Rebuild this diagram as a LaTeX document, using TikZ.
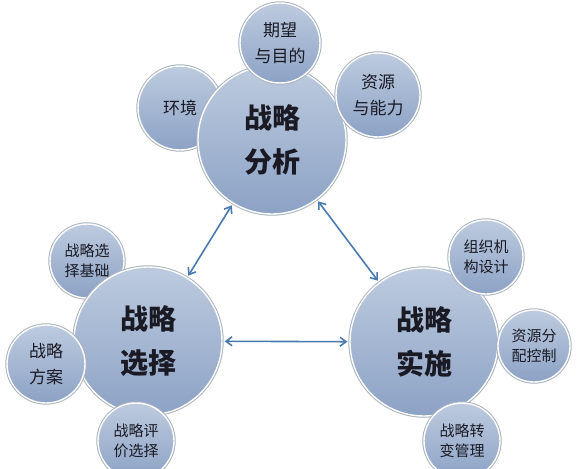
\documentclass[tikz,border=0pt]{standalone}
\usepackage{fontspec}
\setmainfont{Noto Sans CJK SC}
\usepackage{tikz}
\usetikzlibrary{arrows.meta,positioning}
\definecolor{bubtop}{HTML}{BDCBDF}
\definecolor{bubbot}{HTML}{8CA2C5}
\definecolor{bubrim}{HTML}{A9B3C2}
\definecolor{arrblue}{HTML}{4A78B0}
\definecolor{txtdark}{HTML}{1A1A24}

\begin{document}
\begin{tikzpicture}[
  x=1pt, y=-1pt,
  bub/.style ={circle,inner sep=0pt,align=center,text=txtdark,
               top color=bubtop,bottom color=bubbot,
               draw=white,line width=1.4pt,
               preaction={draw=bubrim,line width=3.4pt}},
  big/.style ={bub,minimum size=148pt,
               font=\fontsize{28}{44}\selectfont\bfseries},
  sml/.style ={bub,minimum size=78pt,
               font=\fontsize{17}{26}\selectfont},
  tri/.style ={bub,minimum size=74pt,
               font=\fontsize{15}{20}\selectfont},
  arr/.style ={{Straight Barb[length=6pt,width=9pt]}-{Straight Barb[length=6pt,width=9pt]},
               draw=arrblue,line width=1.6pt,shorten <=2pt,shorten >=2pt}
]
\useasboundingbox (0,0) rectangle (580,468);

%% small circles lying under the big ones
\node[sml,minimum size=84pt] (env)  at (180,108) {环境};
\node[tri]                   (base) at (87,261)  {战略选\\择基础};

%% three big circles  (centre px: 272/140, 148/341, 424/342)
\node[big] (ana) at (272,140) {战略\\分析};
\node[big] (sel) at (148,341) {战略\\选择};
\node[big] (imp) at (424,342) {战略\\实施};

%% small circles on top of the big ones
\node[sml,minimum size=80pt] (goal) at (280,43)  {期望\\与目的};
\node[sml,minimum size=84pt] (res)  at (378,95)  {资源\\与能力};
\node[sml]                   (plan) at (46,364)  {战略\\方案};
\node[tri,minimum size=76pt] (eval) at (136,441) {战略评\\价选择};
\node[tri]                   (org)  at (486,257) {组织机\\构设计};
\node[tri,minimum size=72pt] (alloc) at (534,346) {资源分\\配控制};
\node[tri,minimum size=76pt] (chg)  at (462,441) {战略转\\变管理};

%% double arrows between the big circles
\draw[arr] (ana) -- (sel);
\draw[arr] (ana) -- (imp);
\draw[arr] (sel) -- (imp);

\end{tikzpicture}
\end{document}
